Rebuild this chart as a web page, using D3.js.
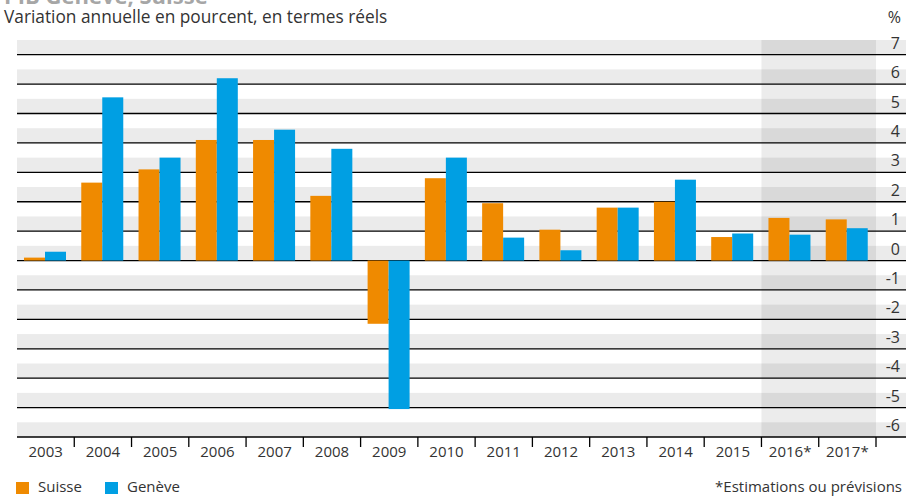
<!DOCTYPE html>
<html>
<head>
<meta charset="utf-8">
<script src="https://cdn.jsdelivr.net/npm/d3@7"></script>
<style>
  body { margin: 0; background: #fff; }
  svg text { font-family: "Open Sans", sans-serif; fill: #333; }
</style>
</head>
<body>
<svg id="chart" width="906" height="496"></svg>
<script>
var years = ['2003','2004','2005','2006','2007','2008','2009','2010','2011','2012','2013','2014','2015','2016*','2017*'];
var suisse = [0.1, 2.65, 3.1, 4.1, 4.1, 2.2, -2.15, 2.8, 1.95, 1.05, 1.8, 2.0, 0.8, 1.45, 1.4];
var geneve = [0.3, 5.55, 3.5, 6.2, 4.45, 3.8, -5.05, 3.5, 0.78, 0.35, 1.8, 2.75, 0.92, 0.88, 1.1];
var y_ticks = [7, 6, 5, 4, 3, 2, 1, 0, -1, -2, -3, -4, -5, -6];
var forecast = ['2016*', '2017*'];

var orange = '#ef8a00';
var blue = '#009fe3';

var svg = d3.select('#chart');

var x_scale = d3.scaleBand().domain(years).range([17, 876]);
var x_inner = d3.scaleBand().domain(['s','g']).range([7, 49]);
var y_scale = d3.scaleLinear().domain([-6, 7.5]).range([437, 40]);

// stripes: grey from v to v+0.5
svg.append('g').selectAll('rect')
    .data(y_ticks)
    .enter()
    .append('rect')
    .attr('x', 17)
    .attr('y', function(d){ return y_scale(d + 0.5); })
    .attr('width', 906 - 17)
    .attr('height', function(d){ return y_scale(d) - y_scale(d + 0.5); })
    .attr('fill', '#ebebeb');

// forecast shading
svg.append('rect')
    .attr('x', x_scale(forecast[0]))
    .attr('y', y_scale(7.5))
    .attr('width', x_scale.bandwidth() * forecast.length)
    .attr('height', y_scale(-6) - y_scale(7.5))
    .attr('fill', 'rgba(0,0,0,0.075)');

// grid lines
svg.append('g').selectAll('line')
    .data(y_ticks)
    .enter()
    .append('line')
    .attr('x1', 17).attr('x2', 906)
    .attr('y1', function(d){ return y_scale(d); })
    .attr('y2', function(d){ return y_scale(d); })
    .attr('stroke', '#000')
    .attr('stroke-width', 1.3);

// bars
var groups = svg.append('g').selectAll('g')
    .data(years)
    .enter()
    .append('g')
    .attr('transform', function(d){ return 'translate(' + x_scale(d) + ',0)'; });

groups.append('rect')
    .attr('x', x_inner('s'))
    .attr('width', x_inner.bandwidth())
    .attr('y', function(d, i){ return y_scale(Math.max(0, suisse[i])); })
    .attr('height', function(d, i){ return Math.abs(y_scale(suisse[i]) - y_scale(0)); })
    .attr('fill', orange);

groups.append('rect')
    .attr('x', x_inner('g'))
    .attr('width', x_inner.bandwidth())
    .attr('y', function(d, i){ return y_scale(Math.max(0, geneve[i])); })
    .attr('height', function(d, i){ return Math.abs(y_scale(geneve[i]) - y_scale(0)); })
    .attr('fill', blue);

// x axis
var x_axis = d3.axisBottom(x_scale).tickSize(0).tickPadding(9);
var xg = svg.append('g').attr('transform', 'translate(0,' + y_scale(-6) + ')').call(x_axis);
xg.select('.domain').remove();
xg.selectAll('text').style('font-size', '15px').attr('fill', '#333');
svg.append('g').selectAll('line')
    .data(years)
    .enter()
    .append('line')
    .attr('x1', function(d){ return x_scale(d) + x_scale.bandwidth(); })
    .attr('x2', function(d){ return x_scale(d) + x_scale.bandwidth(); })
    .attr('y1', y_scale(-6)).attr('y2', y_scale(-6) + 10)
    .attr('stroke', '#000').attr('stroke-width', 1.3);

// y labels on the right
svg.append('g').selectAll('text')
    .data(y_ticks)
    .enter()
    .append('text')
    .attr('x', 900)
    .attr('y', function(d){ return y_scale(d) - 6; })
    .attr('text-anchor', 'end')
    .style('font-size', '16px')
    .text(function(d){ return d; });

svg.append('text').attr('x', 901).attr('y', 23).attr('text-anchor', 'end')
    .style('font-size', '16px').text('%');

// titles
svg.append('text').attr('x', 4).attr('y', 4)
    .style('font-size', '22px').style('font-weight', 'bold')
    .style('fill', '#a6a6a6')
    .text('PIB Genève, Suisse');
svg.append('text').attr('x', 4).attr('y', 23)
    .style('font-size', '17.3px')
    .text('Variation annuelle en pourcent, en termes réels');

// legend
var legend = [['Suisse', orange, 16], ['Genève', blue, 105]];
legend.forEach(function(l){
    svg.append('rect').attr('x', l[2]).attr('y', 482).attr('width', 13).attr('height', 12).attr('fill', l[1]);
    svg.append('text').attr('x', l[2] + 22).attr('y', 492).style('font-size', '15px').text(l[0]);
});
svg.append('text').attr('x', 902).attr('y', 492).attr('text-anchor', 'end')
    .style('font-size', '15px').text('*Estimations ou prévisions');
</script>
</body>
</html>
